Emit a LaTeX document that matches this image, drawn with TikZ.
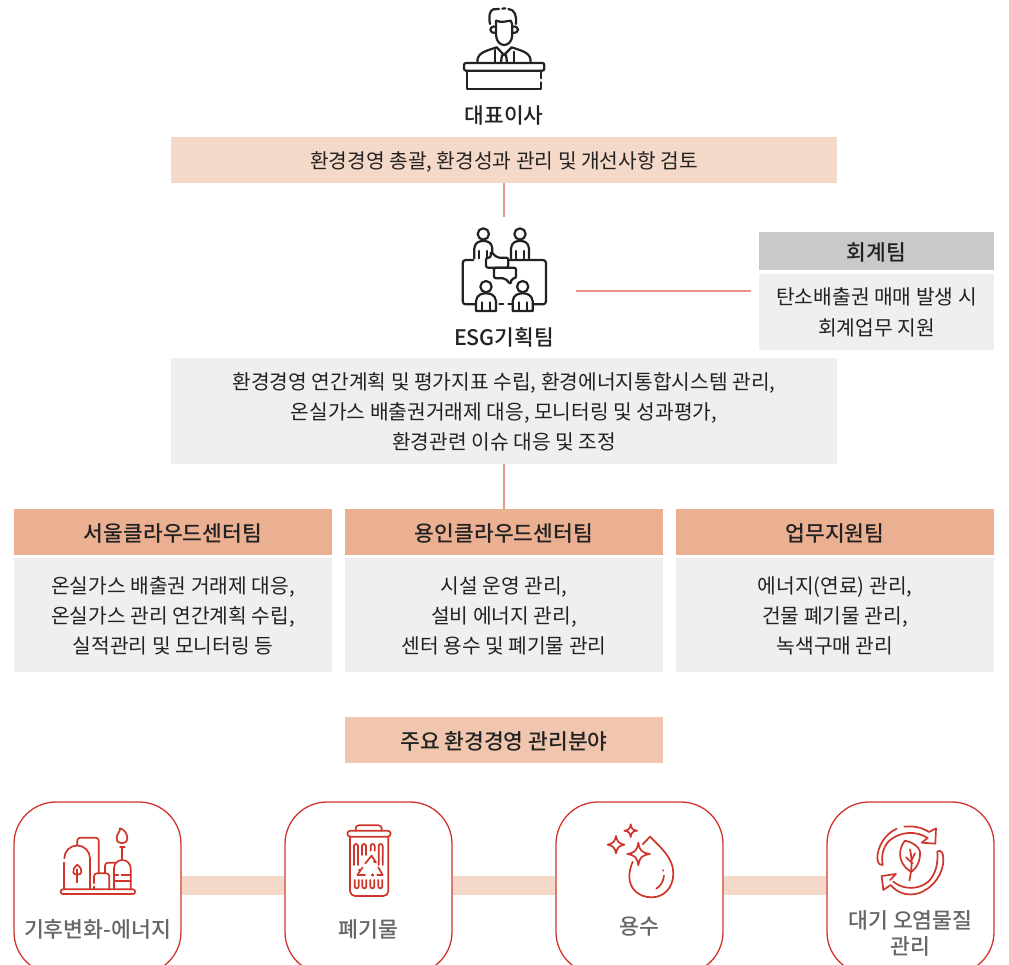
\documentclass[tikz,border=0pt]{standalone}
\usepackage{fontspec}
\setmainfont{Noto Sans CJK KR}
\newfontfamily\medf{Noto Sans CJK KR Medium}
\definecolor{peach}{HTML}{F5D9C8}
\definecolor{peachb}{HTML}{EBAF92}
\definecolor{peachc}{HTML}{F0C6AE}
\definecolor{lgray}{HTML}{EFEFEF}
\definecolor{mgray}{HTML}{C8C9C8}
\definecolor{salmon}{HTML}{E8948A}
\definecolor{ired}{HTML}{D0352B}
\definecolor{ink}{HTML}{222222}
\definecolor{cat}{HTML}{666666}
\tikzset{
 x=1pt,y=-1pt,
 fbox/.style n args={3}{fill=#3,draw=none,inner sep=0pt,minimum width=#1,minimum height=#2},
 bodyf/.style={text=ink,inner sep=0pt,align=center,font=\fontsize{20.3}{30}\selectfont},
 headf/.style={text=ink,inner sep=0pt,align=center,font=\medf\fontsize{21.5}{29}\selectfont},
 head/.style={fbox={318pt}{46pt}{peachb}},
 body/.style={fbox={318pt}{114pt}{lgray}},
 rel/.style={draw=salmon,line width=1.2pt},
 band/.style={draw=peach,line width=19pt},
 card/.style={draw=ired,line width=1.3pt,fill=white,rounded corners=42pt,minimum width=167pt,minimum height=172pt,inner sep=0pt},
 lab/.style={text=cat,font=\medf\fontsize{21.6}{26}\selectfont,align=center,inner sep=0pt},
 ttl/.style={text=ink,inner sep=0pt,font=\medf\fontsize{21.4}{26}\selectfont},
 ic/.style 2 args={shift={(#1,#2)},x=.3333pt,y=-.3333pt},
 ik/.style={draw=ink,line width=2.2pt,line cap=round,line join=round},
 ir/.style={draw=ired,line width=1.7pt,line cap=round,line join=round},
}
\begin{document}
\begin{tikzpicture}
\useasboundingbox (0,0) rectangle (1009,965);
\clip (0,0) rectangle (1009,965);
% boxes
\node[fbox={666pt}{46pt}{peach}] (topbox) at (504,160) {};
\node[bodyf] (toptext) at (504,161.5) {환경경영 총괄, 환경성과 관리 및 개선사항 검토};
\coordinate (esgtop) at (504,217);
\draw[rel] (topbox.south) -- (esgtop);
\node[ttl] (ceo) at (504,115.5) {대표이사};
\node[ttl] (esg) at (504,337.5) {ESG기획팀};
\node[fbox={235pt}{38pt}{mgray}] (acct) at (876.5,251) {};
\node[headf] (acctt) at (876.5,252) {회계팀};
\node[fbox={235pt}{76pt}{lgray}] (acctb) at (876.5,312) {};
\node[bodyf,font=\fontsize{20.3}{31}\selectfont] (acctbt) at (876.5,312.5) {탄소배출권 매매 발생 시\\회계업무 지원};
\coordinate (esgr) at (576,291);
\coordinate (acctl) at (751,291);
\draw[rel] (esgr) -- (acctl);
\node[fbox={666pt}{106pt}{lgray}] (esgb) at (504,411) {};
\node[bodyf] (esgbt) at (504,412) {환경경영 연간계획 및 평가지표 수립, 환경에너지통합시스템 관리,\\온실가스 배출권거래제 대응, 모니터링 및 성과평가,\\환경관련 이슈 대응 및 조정};
\node[head] (h1) at (173,532) {};
\node[head] (h2) at (504,532) {};
\node[head] (h3) at (835,532) {};
\node[headf] (h1t) at (173,533) {서울클라우드센터팀};
\node[headf] (h2t) at (504,533) {용인클라우드센터팀};
\node[headf] (h3t) at (835,533) {업무지원팀};
\draw[rel] (esgb.south) -- (h2.north);
\node[body] (b1) at (173,615) {};
\node[body] (b2) at (504,615) {};
\node[body] (b3) at (835,615) {};
\node[bodyf] (b1t) at (173,616) {온실가스 배출권 거래제 대응,\\온실가스 관리 연간계획 수립,\\실적관리 및 모니터링 등};
\node[bodyf] (b2t) at (504,616) {시설 운영 관리,\\설비 에너지 관리,\\센터 용수 및 폐기물 관리};
\node[bodyf] (b3t) at (835,616) {에너지(연료) 관리,\\건물 폐기물 관리,\\녹색구매 관리};
\node[fbox={318pt}{46pt}{peachc}] (area) at (504,740) {};
\node[headf] (areat) at (504,741) {주요 환경경영 관리분야};
% cards
\node[card] (c1) at (97.5,888) {};
\node[card] (c2) at (368.5,888) {};
\node[card] (c3) at (639.5,888) {};
\node[card] (c4) at (910.5,888) {};
\draw[band] (c1.east |- 0,885.5) -- (c2.west |- 0,885.5);
\draw[band] (c2.east |- 0,885.5) -- (c3.west |- 0,885.5);
\draw[band] (c3.east |- 0,885.5) -- (c4.west |- 0,885.5);
\node[lab] (l1) at (97.5,929) {기후변화-에너지};
\node[lab] (l2) at (368.5,929) {폐기물};
\node[lab] (l3) at (639.5,927) {용수};
\node[lab] (l4) at (910.5,933) {대기 오염물질\\관리};
% CEO icon
\begin{scope}[ic={440}{0}]
\draw[ik] (150,72) .. controls (146,50) and (148,32) .. (160,28) -- (177,27);
\draw[ik] (187,26) -- (196,25);
\draw[ik] (205,27) .. controls (225,28) and (230,48) .. (228,72);
\draw[ik] (168,62) .. controls (185,70) and (205,62) .. (212,62) .. controls (215,68) and (217,72) .. (217,78);
\draw[ik] (168,62) -- (168,105) .. controls (170,145) and (215,145) .. (217,105) -- (217,78);
\draw[ik] (168,80) .. controls (145,76) and (145,102) .. (168,98);
\draw[ik] (217,80) .. controls (240,76) and (240,102) .. (217,98);
\draw[ik] (112,186) .. controls (112,160) and (130,155) .. (170,142);
\draw[ik] (272,186) .. controls (272,160) and (255,155) .. (215,142);
\draw[ik] (170,142) -- (192,165) -- (215,142);
\draw[ik] (166,150) -- (166,186); \draw[ik] (222,155) -- (222,186);
\draw[ik] (183,186) -- (186,165) -- (198,165) -- (201,186);
\draw[ik,rounded corners=2pt] (72,189) rectangle (313,212);
\draw[ik] (302,212) -- (302,235); \draw[ik] (302,247) -- (302,268) -- (82,268) -- (82,212);
\end{scope}
% ESG icon
\begin{scope}[ic={440}{215}]
\foreach \cx in {130,240} {
 \draw[ik] (\cx,57) circle (17);
 \draw[ik] (\cx-27,130) -- (\cx-27,100) .. controls (\cx-25,80) and (\cx-10,78) .. (\cx,78) .. controls (\cx+10,78) and (\cx+25,80) .. (\cx+27,100) -- (\cx+27,130);
 \draw[ik] (\cx-12,108) -- (\cx-12,130); \draw[ik] (\cx+12,108) -- (\cx+12,130);
}
\foreach \cx in {138,248} {
 \draw[ik] (\cx,215) circle (17);
 \draw[ik] (\cx-30,288) -- (\cx-30,258) .. controls (\cx-28,238) and (\cx-10,235) .. (\cx,235) .. controls (\cx+10,235) and (\cx+28,238) .. (\cx+30,258) -- (\cx+30,288) -- cycle;
 \draw[ik] (\cx-12,262) -- (\cx-12,288); \draw[ik] (\cx+12,262) -- (\cx+12,288);
}
\draw[ik,rounded corners=3pt] (100,135) -- (68,135) -- (68,268) -- (105,268);
\draw[ik] (178,268) -- (190,268); \draw[ik] (205,268) -- (216,268);
\draw[ik,rounded corners=3pt] (282,268) -- (318,268) -- (318,135) -- (205,135);
\draw[ik,fill=white,rounded corners=2pt] (138,128) -- (152,128) -- (152,110) -- (172,128) -- (205,128) -- (205,158) -- (138,158) -- cycle;
\draw[ik,fill=white,rounded corners=2pt] (162,158) -- (228,158) -- (228,190) -- (215,190) -- (212,208) -- (195,190) -- (162,190) -- cycle;
\end{scope}
% plant icon
\begin{scope}[ic={0}{790}]
\draw[ir,rounded corners=2pt] (182,298) rectangle (405,312);
\draw[ir] (193,297) -- (193,218); \draw[ir] (193,205) arc (180:360:38.5) -- (270,297);
\draw[ir,rounded corners=3pt] (232,167) -- (232,143) -- (296,143) -- (296,250);
\draw[ir,rounded corners=3pt] (282,280) -- (282,250) -- (328,250) -- (328,297);
\draw[ir] (282,290) -- (282,297);
\draw[ir,rounded corners=3pt] (315,250) -- (315,218) -- (345,218);
\draw[ir] (342,297) -- (342,235) arc (180:360:25) -- (392,297);
\draw[ir] (342,255) -- (355,255) (365,255) -- (392,255);
\draw[ir] (342,272) -- (392,272);
\draw[ir] (367,172) -- (367,210) (360,172) -- (374,172);
\draw[ir] (360,115) .. controls (362,125) and (350,130) .. (350,145) .. controls (350,165) and (382,165) .. (382,145) .. controls (382,130) and (372,118) .. cycle;
\draw[ir] (232,224) .. controls (222,232) and (218,240) .. (220,248) .. controls (222,256) and (242,256) .. (244,248) .. controls (246,240) and (242,232) .. cycle;
\draw[ir] (232,238) -- (232,277);
\end{scope}
% trash icon
\begin{scope}[ic={320}{810}]
\draw[ir,rounded corners=3pt] (107,62) -- (107,46) -- (185,46) -- (185,62);
\draw[ir,rounded corners=3pt] (82,62) rectangle (212,80);
\draw[ir,rounded corners=5pt] (90,80) -- (90,258) -- (205,258) -- (205,80);
\foreach \xa/\ya in {108/165,132/135,158/122,182/165} {
 \draw[ir,rounded corners=2pt] (\xa-6,\ya) -- (\xa-6,102) -- (\xa+6,102) -- (\xa+6,\ya);
}
\foreach \xa in {110,133,157,181} {
 \draw[ir,rounded corners=2pt] (\xa-6,210) -- (\xa-6,235) -- (\xa+6,235) -- (\xa+6,210);
}
\draw[ir] (136,160) -- (155,137) -- (168,158);
\draw[ir] (128,172) -- (112,195) -- (135,195);
\draw[ir] (172,195) -- (188,195) -- (175,172);
\fill[ired] (118,180) circle (4) (163,155) circle (4) (158,195) circle (5);
\end{scope}
% drop icon
\begin{scope}[ic={590}{810}]
\draw[ir] (158,103) -- (180,80) .. controls (215,115) and (250,145) .. (250,190) .. controls (250,235) and (220,262) .. (185,262) .. controls (145,262) and (118,235) .. (118,200) .. controls (118,185) and (122,170) .. (128,155);
\draw[ir] (112,132) .. controls (135,128) and (141,122) .. (145,98) .. controls (149,122) and (155,128) .. (180,132) .. controls (155,136) and (149,142) .. (145,166) .. controls (141,142) and (135,136) .. cycle;
\draw[ir] (53,104) .. controls (70,100) and (74,96) .. (78,78) .. controls (82,96) and (86,100) .. (103,104) .. controls (86,108) and (82,112) .. (78,130) .. controls (74,112) and (70,108) .. cycle;
\draw[ir] (103,62) .. controls (116,60) and (120,56) .. (122,43) .. controls (124,56) and (128,60) .. (141,62) .. controls (128,64) and (124,68) .. (122,81) .. controls (120,68) and (116,64) .. cycle;
\draw[ir] (219,181) -- (220,182);
\draw[ir] (222,197) .. controls (220,215) and (212,228) .. (199,236);
\end{scope}
% recycle icon
\begin{scope}[ic={860}{810}]
\draw[ir] (133,50) .. controls (160,47) and (185,52) .. (207,66) -- (228,55) -- (226,101) -- (185,98) -- (203,84) .. controls (170,62) and (120,62) .. (85,95) .. controls (68,115) and (64,135) .. (68,165) .. controls (60,165) and (55,165) .. (52,145) .. controls (52,110) and (75,72) .. (110,56);
\draw[ir] (232,125) .. controls (240,118) and (250,125) .. (250,145) .. controls (252,190) and (220,235) .. (175,250) .. controls (145,258) and (115,252) .. (92,225) -- (70,240) -- (65,198) -- (108,192) -- (90,210);
\draw[ir] (100,215) .. controls (130,240) and (175,240) .. (205,215) .. controls (225,195) and (235,165) .. (232,125);
\draw[ir] (135,92) .. controls (120,110) and (118,130) .. (122,145) .. controls (128,170) and (150,185) .. (155,185) .. controls (170,175) and (182,150) .. (180,125) .. controls (178,110) and (155,95) .. cycle;
\draw[ir] (150,118) .. controls (155,140) and (158,170) .. (148,212);
\draw[ir] (138,142) -- (158,160) (165,130) -- (156,148);
\end{scope}
\end{tikzpicture}
\end{document}
